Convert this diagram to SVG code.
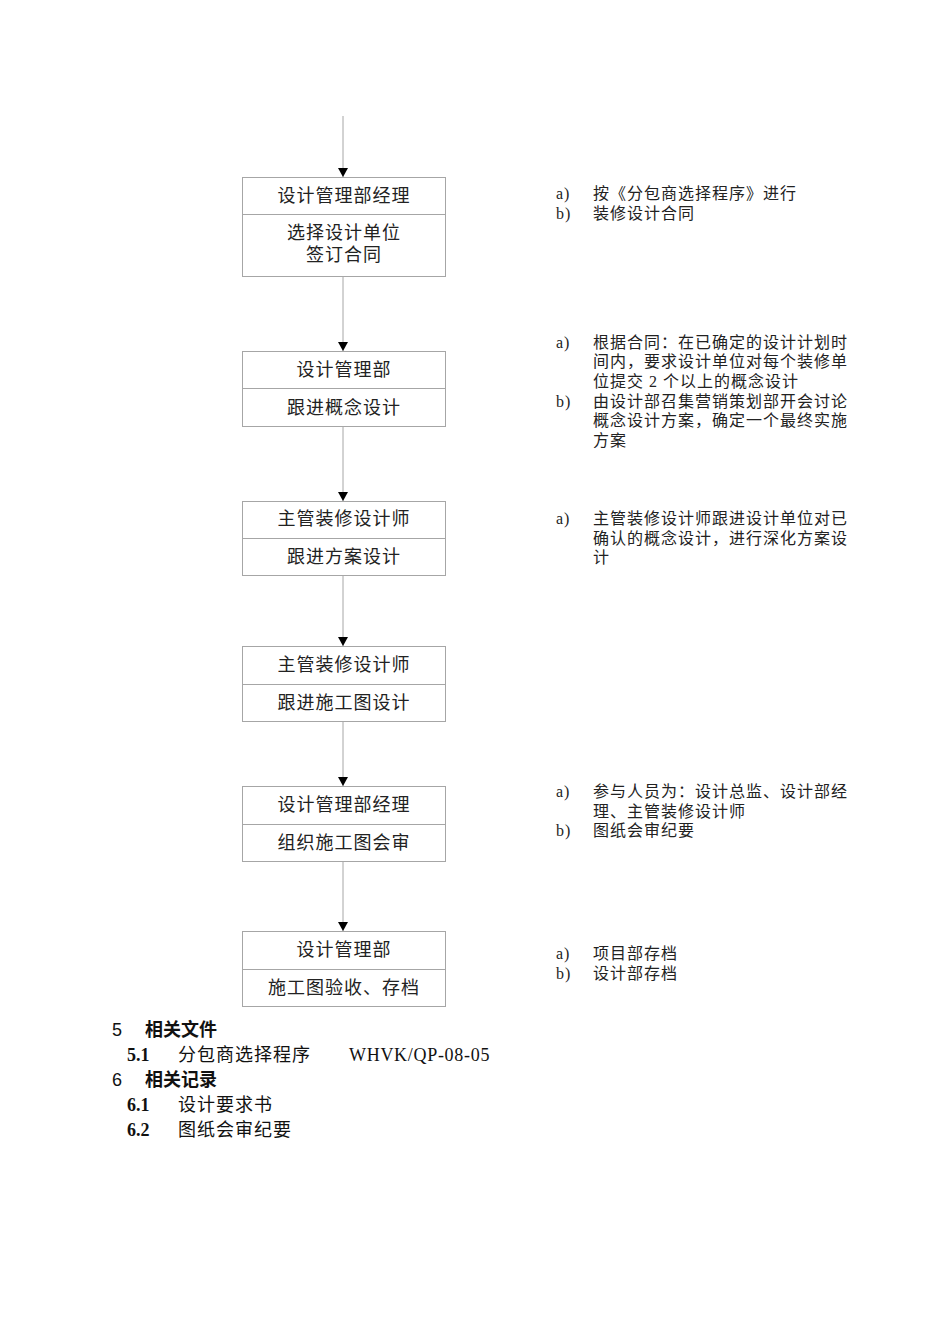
<svg xmlns="http://www.w3.org/2000/svg" width="950" height="1344" viewBox="0 0 950 1344">
<defs>
<marker id="arr" markerWidth="10" markerHeight="10" refX="9" refY="5" orient="auto" markerUnits="userSpaceOnUse" overflow="visible">
<path d="M0,0 L9,5 L0,10 Z" fill="#000"/>
</marker>
<style>
.box{fill:#fff;stroke:#a6a6a6;stroke-width:1}
.div{stroke:#a6a6a6;stroke-width:1}
.bt{font-family:"Liberation Serif","Noto Sans CJK SC",serif;font-size:18px;letter-spacing:1px;fill:#222;text-anchor:middle}
.nt{font-family:"Liberation Serif","Noto Sans CJK SC",serif;font-size:16px;letter-spacing:1px;fill:#222}
.ft{font-family:"Liberation Serif","Noto Sans CJK SC",serif;font-size:18px;letter-spacing:1px;fill:#111}
.fb{font-family:"Liberation Serif","Noto Sans CJK SC",serif;font-size:18px;font-weight:bold;fill:#111}
.hd{font-family:"Liberation Sans","Noto Sans CJK SC",sans-serif;font-size:18px;fill:#111}
.con{stroke:#a6a6a6;stroke-width:1;fill:none}
</style>
</defs>
<g id="connectors">
<line class="con" x1="343" y1="116" x2="343" y2="177" marker-end="url(#arr)"/>
<line class="con" x1="343" y1="276" x2="343" y2="351" marker-end="url(#arr)"/>
<line class="con" x1="343" y1="426" x2="343" y2="501" marker-end="url(#arr)"/>
<line class="con" x1="343" y1="575" x2="343" y2="646" marker-end="url(#arr)"/>
<line class="con" x1="343" y1="721" x2="343" y2="786" marker-end="url(#arr)"/>
<line class="con" x1="343" y1="861" x2="343" y2="931" marker-end="url(#arr)"/>
</g>
<g id="node1">
<rect class="box" x="242.5" y="177.5" width="203" height="99"/>
<line class="div" x1="242.5" y1="214.5" x2="445.5" y2="214.5"/>
<text class="bt" x="344" y="202">设计管理部经理</text>
<text class="bt" x="344" y="239">选择设计单位</text>
<text class="bt" x="344" y="261">签订合同</text>
</g>
<g id="node2">
<rect class="box" x="242.5" y="351.5" width="203" height="75"/>
<line class="div" x1="242.5" y1="388.5" x2="445.5" y2="388.5"/>
<text class="bt" x="344" y="376">设计管理部</text>
<text class="bt" x="344" y="414">跟进概念设计</text>
</g>
<g id="node3">
<rect class="box" x="242.5" y="501.5" width="203" height="74"/>
<line class="div" x1="242.5" y1="538.5" x2="445.5" y2="538.5"/>
<text class="bt" x="344" y="525">主管装修设计师</text>
<text class="bt" x="344" y="563">跟进方案设计</text>
</g>
<g id="node4">
<rect class="box" x="242.5" y="646.5" width="203" height="75"/>
<line class="div" x1="242.5" y1="684.5" x2="445.5" y2="684.5"/>
<text class="bt" x="344" y="671">主管装修设计师</text>
<text class="bt" x="344" y="709">跟进施工图设计</text>
</g>
<g id="node5">
<rect class="box" x="242.5" y="786.5" width="203" height="75"/>
<line class="div" x1="242.5" y1="824.5" x2="445.5" y2="824.5"/>
<text class="bt" x="344" y="811">设计管理部经理</text>
<text class="bt" x="344" y="849">组织施工图会审</text>
</g>
<g id="node6">
<rect class="box" x="242.5" y="931.5" width="203" height="75"/>
<line class="div" x1="242.5" y1="969.5" x2="445.5" y2="969.5"/>
<text class="bt" x="344" y="956">设计管理部</text>
<text class="bt" x="344" y="994">施工图验收、存档</text>
</g>
<g id="notes">
<text class="nt" x="556" y="199">a)</text><text class="nt" x="593" y="199">按《分包商选择程序》进行</text>
<text class="nt" x="556" y="219">b)</text><text class="nt" x="593" y="219">装修设计合同</text>

<text class="nt" x="556" y="348">a)</text><text class="nt" x="593" y="348">根据合同：在已确定的设计计划时</text>
<text class="nt" x="593" y="367">间内，要求设计单位对每个装修单</text>
<text class="nt" x="593" y="387">位提交 2 个以上的概念设计</text>
<text class="nt" x="556" y="407">b)</text><text class="nt" x="593" y="407">由设计部召集营销策划部开会讨论</text>
<text class="nt" x="593" y="426">概念设计方案，确定一个最终实施</text>
<text class="nt" x="593" y="446">方案</text>

<text class="nt" x="556" y="524">a)</text><text class="nt" x="593" y="524">主管装修设计师跟进设计单位对已</text>
<text class="nt" x="593" y="544">确认的概念设计，进行深化方案设</text>
<text class="nt" x="593" y="563">计</text>

<text class="nt" x="556" y="797">a)</text><text class="nt" x="593" y="797">参与人员为：设计总监、设计部经</text>
<text class="nt" x="593" y="817">理、主管装修设计师</text>
<text class="nt" x="556" y="836">b)</text><text class="nt" x="593" y="836">图纸会审纪要</text>

<text class="nt" x="556" y="959">a)</text><text class="nt" x="593" y="959">项目部存档</text>
<text class="nt" x="556" y="979">b)</text><text class="nt" x="593" y="979">设计部存档</text>
</g>
<g id="footer">
<text class="hd" x="112" y="1036">5</text><text class="fb" x="145" y="1036">相关文件</text>
<text class="fb" x="127" y="1061">5.1</text><text class="ft" x="178" y="1061">分包商选择程序</text><text class="ft" x="349" y="1061" style="letter-spacing:0.7px">WHVK/QP-08-05</text>
<text class="hd" x="112" y="1086">6</text><text class="fb" x="145" y="1086">相关记录</text>
<text class="fb" x="127" y="1111">6.1</text><text class="ft" x="178" y="1111">设计要求书</text>
<text class="fb" x="127" y="1136">6.2</text><text class="ft" x="178" y="1136">图纸会审纪要</text>
</g>
</svg>
